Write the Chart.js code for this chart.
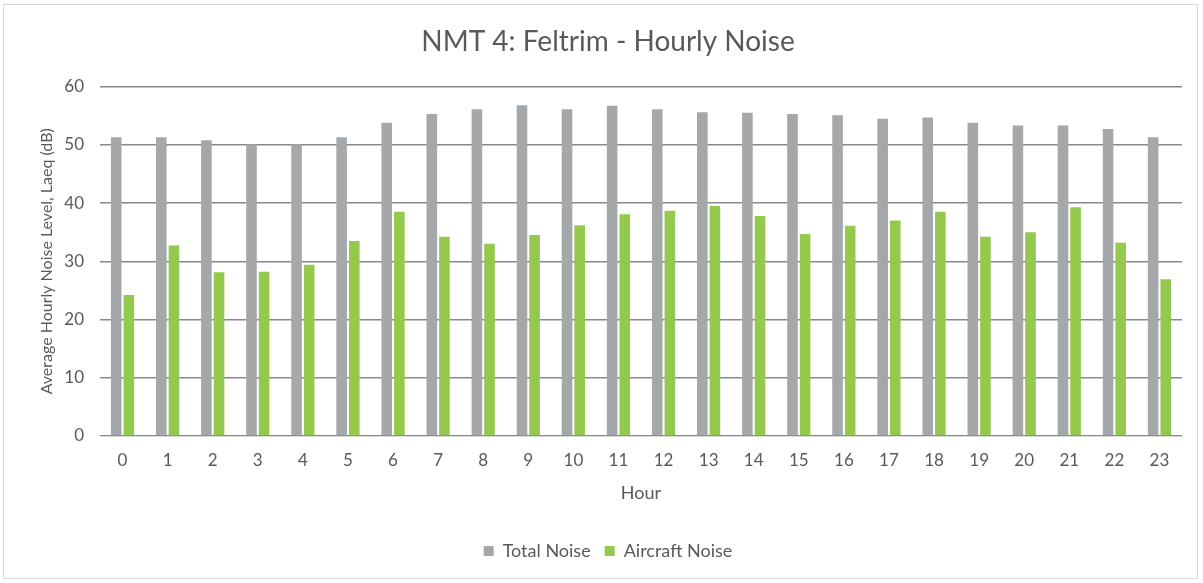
<!DOCTYPE html>
<html>
<head>
<meta charset="utf-8">
<script src="https://cdn.jsdelivr.net/npm/chart.js@4"></script>
<style>
  html, body { margin: 0; padding: 0; background: #fff; }
  #card {
    position: absolute; left: 3px; top: 4px;
    width: 1195px; height: 575px;
    box-sizing: border-box; border: 1px solid #d9d9d9;
  }
  #wrap { position: absolute; left: 0; top: 0; width: 1193px; height: 573px; }
</style>
</head>
<body>
<div id="card"><div id="wrap"><canvas id="chart"></canvas></div></div>
<script>
const hours = ["0","1","2","3","4","5","6","7","8","9","10","11","12","13","14","15","16","17","18","19","20","21","22","23"];
const totalNoise = [51.3, 51.3, 50.8, 50.1, 50.1, 51.3, 53.8, 55.3, 56.1, 56.8, 56.1, 56.7,
                    56.1, 55.6, 55.5, 55.3, 55.1, 54.5, 54.7, 53.8, 53.3, 53.3, 52.7, 51.3];
const aircraftNoise = [24.2, 32.7, 28.1, 28.2, 29.4, 33.5, 38.5, 34.2, 33.0, 34.5, 36.2, 38.1,
                       38.7, 39.5, 37.8, 34.7, 36.1, 37.0, 38.5, 34.2, 35.0, 39.3, 33.2, 26.9];

const textColor = "#595959";
const fontFamily = "Lato, 'Open Sans', sans-serif";

new Chart(document.getElementById("chart"), {
  type: "bar",
  data: {
    labels: hours,
    datasets: [{
      label: "Total Noise",
      data: totalNoise,
      backgroundColor: "#a5a8ab",
      categoryPercentage: 0.56,
      barPercentage: 0.84
    }, {
      label: "Aircraft Noise",
      data: aircraftNoise,
      backgroundColor: "#95c94e",
      categoryPercentage: 0.56,
      barPercentage: 0.84
    }]
  },
  options: {
    responsive: true,
    maintainAspectRatio: false,
    animation: false,
    layout: {
      padding: { left: 30, right: 15, top: 0, bottom: 8 }
    },
    plugins: {
      title: {
        display: true,
        text: "NMT 4: Feltrim - Hourly Noise",
        color: textColor,
        font: { family: fontFamily, size: 28, weight: "normal" },
        padding: { top: 20, bottom: 28 }
      },
      legend: {
        position: "bottom",
        labels: {
          color: textColor,
          font: { family: fontFamily, size: 18 },
          boxWidth: 10,
          boxHeight: 10,
          padding: 14
        }
      },
      tooltip: { enabled: false }
    },
    scales: {
      x: {
        grid: { display: false, drawTicks: false },
        border: { color: "#d9d9d9", width: 1 },
        ticks: {
          color: textColor,
          font: { family: fontFamily, size: 17 },
          padding: 14,
          maxRotation: 0
        },
        title: {
          display: true,
          text: "Hour",
          color: textColor,
          font: { family: fontFamily, size: 18 },
          padding: { top: 0, bottom: 24 }
        },
        afterFit: (scale) => { scale.height = 92; }
      },
      y: {
        min: 0,
        max: 60,
        ticks: {
          stepSize: 10,
          color: textColor,
          font: { family: fontFamily, size: 17 },
          padding: 16
        },
        grid: {
          color: "#898989",
          lineWidth: 1.5,
          drawTicks: false
        },
        border: { display: false },
        title: {
          display: true,
          text: "Average Hourly Noise Level, Laeq (dB)",
          color: textColor,
          font: { family: fontFamily, size: 16 },
          padding: { top: 3, bottom: 0 }
        },
        afterFit: (scale) => { scale.width = 66; }
      }
    }
  }
});
</script>
</body>
</html>
